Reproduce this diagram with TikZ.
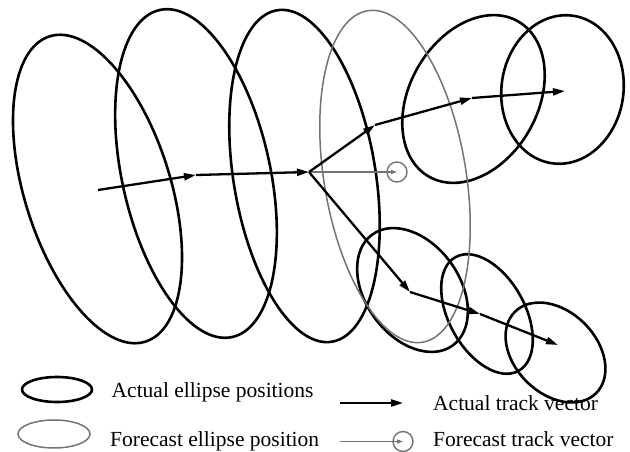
\documentclass[tikz,border=0pt]{standalone}
\usepackage{fontspec}
\setmainfont{Liberation Serif}
\usetikzlibrary{arrows.meta,shapes.geometric}
\tikzset{
  actual/.style={draw=black, line width=2.6pt},
  fore/.style={draw=black!55, line width=1.5pt},
  track/.style={draw=black, line width=2.3pt, -{Triangle[length=12pt,width=7pt]}},
  ftrack/.style={draw=black!55, line width=1.4pt, -{Triangle[length=6pt,width=4pt]}},
  fcircle/.style={circle, draw=black!55, line width=1.4pt, minimum size=20pt, inner sep=0pt},
  legtext/.style={anchor=base west, inner sep=0pt, font=\fontsize{21.5}{25}\selectfont},
}
\begin{document}
\begin{tikzpicture}[x=1pt,y=-1pt]
\useasboundingbox (0,0) rectangle (630,452);
% actual ellipses
\draw[actual, shift={(97.5,189)}, rotate=17.4] (0,0) ellipse [x radius=73pt, y radius=160pt];
\draw[actual, shift={(196,173.5)}, rotate=12.5] (0,0) ellipse [x radius=74pt, y radius=167.5pt];
\draw[actual, shift={(304.5,176)}, rotate=9.4] (0,0) ellipse [x radius=71pt, y radius=168pt];
\draw[actual, shift={(473.5,99)}, rotate=-30] (0,0) ellipse [x radius=64pt, y radius=89.5pt];
\draw[actual, shift={(562.5,89.5)}, rotate=-8] (0,0) ellipse [x radius=61pt, y radius=74.5pt];
\draw[actual, shift={(412.5,290)}, rotate=36] (0,0) ellipse [x radius=47pt, y radius=68.5pt];
\draw[actual, shift={(487,314)}, rotate=29] (0,0) ellipse [x radius=38pt, y radius=65pt];
\draw[actual, shift={(555.5,352.5)}, rotate=45] (0,0) ellipse [x radius=41pt, y radius=57.5pt];
% forecast ellipse
\draw[fore, shift={(395,176.5)}, rotate=9.4] (0,0) ellipse [x radius=71pt, y radius=168pt];
% track points
\coordinate (P0) at (98,190);
\coordinate (P1) at (196,175);
\coordinate (P2) at (309,172);
\coordinate (P3) at (375,125);
\coordinate (P4) at (472,98);
\coordinate (P5) at (565,91);
\coordinate (Q3) at (410,292);
\coordinate (Q4) at (480,314);
\coordinate (Q5) at (558,345);
\node[fcircle] (FC) at (397,172) {};
% forecast vector
\draw[ftrack] (P2) -- (FC.center);
% actual track vectors
\draw[track] (P0) -- (P1);
\draw[track] (P1) -- (P2);
\draw[track] (P2) -- (P3);
\draw[track] (P3) -- (P4);
\draw[track] (P4) -- (P5);
\draw[track] (P2) -- (Q3);
\draw[track] (Q3) -- (Q4);
\draw[track] (Q4) -- (Q5);
% legend
\draw[actual] (57,389.5) ellipse [x radius=35pt, y radius=12.5pt];
\draw[fore] (54,434) ellipse [x radius=36pt, y radius=14pt];
\node[legtext] (t1) at (111.5,397.5) {Actual ellipse positions};
\node[legtext] (t2) at (110,446) {Forecast ellipse position};
\coordinate (LA0) at (340,403);
\coordinate (LA1) at (403,403);
\draw[track] (LA0) -- (LA1);
\coordinate (LF0) at (340,441.5);
\node[fcircle] (LFC) at (403,441.5) {};
\draw[ftrack] (LF0) -- (LFC.center);
\node[legtext] (t3) at (433,410.5) {Actual track vector};
\node[legtext] (t4) at (433,446.5) {Forecast track vector};
\end{tikzpicture}
\end{document}
